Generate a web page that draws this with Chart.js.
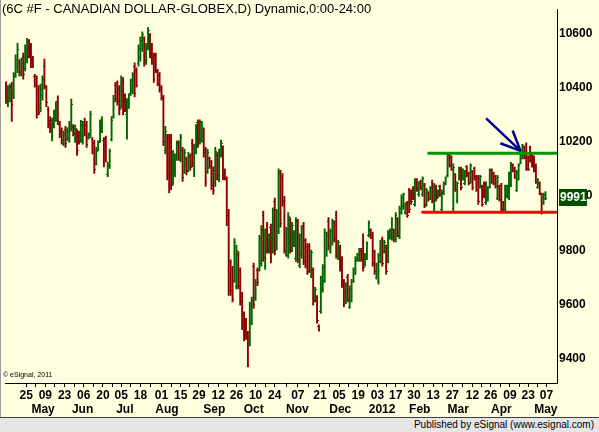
<!DOCTYPE html>
<html lang="en">
<head>
<meta charset="UTF-8">
<title>6C #F - Canadian Dollar-Globex, daily</title>
<script src="https://cdn.jsdelivr.net/npm/chart.js"></script>
<style>
  html, body { margin: 0; padding: 0; background: #FFFFE0; }
  #wrap { position: relative; width: 599px; height: 432px; overflow: hidden; background: #FFFFE0; }
  #plot { position: absolute; left: 0; top: 0; }
  .title { position: absolute; left: 2px; top: 1px; font: 13px "Liberation Sans", Arial, sans-serif; line-height: 15px; color: #000; white-space: nowrap; }
  .copy { position: absolute; left: 3px; top: 371px; font: 7px "Liberation Sans", Arial, sans-serif; color: #000; white-space: nowrap; }
  .edge { position: absolute; left: 0; top: 0; width: 1px; height: 417px; background: #9a9a9a; }
  .footer { position: absolute; left: 0; top: 417px; width: 599px; height: 15px; box-sizing: border-box;
            background: #E6E6E6; border-top: 1px solid #404040; font: 10px "Liberation Sans", Arial, sans-serif;
            line-height: 13px; text-align: right; padding-right: 5px; color: #000; }
</style>
</head>
<body>
<div id="wrap">
  <canvas id="plot" width="599" height="417"></canvas>
  <div class="edge"></div>
  <div class="title">(6C #F - CANADIAN DOLLAR-GLOBEX,D) Dynamic,0:00-24:00</div>
  <div class="copy">© eSignal, 2011</div>
  <div class="footer">Published by eSignal (www.esignal.com)</div>
</div>

<script>
// daily bars, mid-Apr 2011 .. May 2012
const opens = [
  10410, 10350, 10365, 10405, 10370, 10450, 10480, 10495, 10455, 10510,
  10470, 10510, 10570, 10545, 10505, 10440, 10430, 10395, 10320, 10370,
  10480, 10400, 10320, 10280, 10220, 10265, 10290, 10350, 10265, 10240,
  10195, 10245, 10210, 10215, 10250, 10255, 10210, 10235, 10230, 10205,
  10200, 10275, 10260, 10215, 10225, 10210, 10195, 10120, 10172, 10205,
  10240, 10205, 10210, 10080, 10110, 10210, 10295, 10410, 10415, 10395,
  10330, 10425, 10370, 10300, 10330, 10380, 10390, 10480, 10465, 10490,
  10510, 10545, 10580, 10495, 10550, 10590, 10555, 10515, 10520, 10460,
  10445, 10400, 10365, 10170, 10215, 10215, 10210, 10050, 10080, 10140,
  10195, 10135, 10170, 10090, 10135, 10095, 10145, 10195, 10085, 10165,
  10270, 10200, 10205, 10240, 10170, 10090, 10140, 10125, 10095, 10045,
  10150, 10065, 10150, 10175, 10095, 10060, 9930, 9755, 9730, 9690,
  9665, 9785, 9725, 9630, 9565, 9540, 9490, 9455, 9535, 9740,
  9625, 9725, 9730, 9750, 9930, 9740, 9890, 9795, 9885, 9800,
  9980, 9810, 9870, 10085, 10070, 9985, 9785, 9780, 9910, 9800,
  9820, 9770, 9905, 9745, 9780, 9890, 9835, 9815, 9815, 9705,
  9725, 9615, 9625, 9520, 9575, 9655, 9690, 9785, 9905, 9795,
  9825, 9900, 9930, 9770, 9810, 9765, 9685, 9610, 9700, 9590,
  9615, 9685, 9715, 9762, 9765, 9800, 9850, 9745, 9770, 9855,
  9875, 9860, 9795, 9700, 9685, 9760, 9840, 9795, 9810, 9760,
  9845, 9845, 9875, 9840, 9915, 9850, 9940, 9960, 9938, 9975,
  10020, 10015, 10030, 9970, 10060, 10005, 10055, 10005, 10040, 9970,
  10012, 9992, 10050, 9945, 10035, 9995, 10035, 9950, 10010, 10045,
  10075, 10150, 10142, 9955, 10078, 9985, 10062, 10100, 10062, 10045,
  10108, 10085, 10052, 10090, 10102, 10072, 10070, 10032, 10035, 10048,
  9975, 9985, 10032, 10095, 10085, 10072, 9992, 10036, 10040, 9976,
  9950, 9998, 9992, 10040, 10115, 10102, 10022, 10062, 10122, 10140,
  10180, 10190, 10144, 10180, 10150, 10144, 10114, 10032, 10048, 10005,
  9972, 9990
];
const highs = [
  10422, 10408, 10414, 10420, 10456, 10522, 10564, 10504, 10510, 10528,
  10558, 10582, 10578, 10564, 10516, 10450, 10444, 10408, 10414, 10444,
  10506, 10408, 10330, 10294, 10288, 10318, 10348, 10370, 10276, 10252,
  10240, 10258, 10252, 10276, 10358, 10264, 10262, 10246, 10240, 10280,
  10276, 10288, 10276, 10234, 10314, 10216, 10206, 10180, 10204, 10282,
  10294, 10216, 10222, 10126, 10174, 10294, 10372, 10420, 10426, 10408,
  10444, 10438, 10378, 10360, 10378, 10432, 10456, 10492, 10474, 10558,
  10588, 10606, 10588, 10564, 10622, 10600, 10564, 10528, 10528, 10468,
  10456, 10408, 10372, 10258, 10228, 10228, 10228, 10168, 10156, 10204,
  10204, 10228, 10180, 10174, 10144, 10162, 10156, 10210, 10192, 10264,
  10282, 10282, 10276, 10252, 10180, 10174, 10144, 10132, 10108, 10180,
  10162, 10174, 10207, 10186, 10101, 10071, 9951, 9765, 9741, 9843,
  9819, 9795, 9735, 9645, 9573, 9549, 9501, 9609, 9627, 9753,
  9693, 9735, 9855, 9891, 9945, 9879, 9903, 9861, 9897, 9957,
  9993, 9951, 10101, 10095, 10083, 9999, 9885, 9939, 9921, 9903,
  9873, 9921, 9915, 9861, 9891, 9903, 9843, 9825, 9825, 9801,
  9735, 9663, 9633, 9525, 9705, 9747, 9879, 9867, 9921, 9879,
  9915, 9909, 9945, 9837, 9819, 9777, 9693, 9681, 9711, 9669,
  9693, 9735, 9777, 9789, 9807, 9807, 9861, 9789, 9831, 9909,
  9879, 9867, 9801, 9753, 9789, 9837, 9849, 9837, 9819, 9873,
  9879, 9921, 9879, 9939, 9921, 9963, 10005, 10011, 9975, 9981,
  10029, 10023, 10035, 10065, 10065, 10053, 10059, 10071, 10047, 10029,
  10017, 10035, 10059, 10047, 10041, 10023, 10041, 10023, 10053, 10071,
  10155, 10155, 10149, 10119, 10083, 10053, 10107, 10107, 10101, 10095,
  10113, 10089, 10119, 10095, 10107, 10077, 10077, 10077, 10041, 10053,
  10053, 10035, 10101, 10101, 10089, 10077, 10077, 10041, 10047, 9981,
  10041, 10041, 10089, 10125, 10119, 10107, 10095, 10119, 10167, 10191,
  10185, 10197, 10149, 10185, 10155, 10149, 10119, 10065, 10053, 10011,
  10011, 10017
];
const lows = [
  10342, 10330, 10348, 10276, 10360, 10438, 10456, 10444, 10444, 10432,
  10462, 10492, 10510, 10474, 10474, 10402, 10288, 10300, 10312, 10354,
  10396, 10330, 10252, 10234, 10204, 10252, 10276, 10264, 10216, 10192,
  10186, 10180, 10204, 10198, 10240, 10222, 10198, 10150, 10192, 10198,
  10192, 10222, 10180, 10210, 10216, 10156, 10084, 10114, 10168, 10198,
  10234, 10108, 10126, 10072, 10102, 10204, 10288, 10348, 10336, 10300,
  10324, 10300, 10312, 10210, 10324, 10372, 10378, 10366, 10402, 10480,
  10498, 10534, 10480, 10486, 10540, 10510, 10486, 10420, 10456, 10408,
  10384, 10354, 10186, 10156, 10060, 10012, 10024, 10042, 10072, 10132,
  10132, 10126, 10054, 10084, 10078, 10090, 10096, 10108, 10072, 10156,
  10180, 10192, 10198, 10144, 10036, 10084, 10102, 10024, 10006, 10036,
  10060, 10053, 10144, 10060, 10060, 9891, 9633, 9633, 9609, 9681,
  9657, 9657, 9597, 9507, 9465, 9471, 9369, 9447, 9525, 9585,
  9615, 9669, 9723, 9741, 9759, 9729, 9789, 9789, 9753, 9789,
  9783, 9801, 9861, 9885, 9963, 9789, 9777, 9771, 9789, 9795,
  9813, 9759, 9753, 9735, 9771, 9747, 9735, 9711, 9717, 9699,
  9597, 9609, 9531, 9501, 9567, 9645, 9681, 9777, 9801, 9789,
  9819, 9831, 9771, 9765, 9723, 9663, 9591, 9603, 9609, 9585,
  9609, 9681, 9711, 9759, 9759, 9759, 9723, 9741, 9765, 9849,
  9843, 9741, 9711, 9693, 9675, 9753, 9741, 9789, 9711, 9753,
  9841, 9837, 9831, 9831, 9849, 9843, 9933, 9951, 9933, 9921,
  9939, 9969, 9987, 9963, 10017, 9999, 10023, 9999, 9957, 9963,
  9981, 9987, 9975, 9939, 9981, 9993, 9999, 9945, 10005, 10041,
  10071, 10107, 10095, 9945, 10017, 9975, 10059, 10023, 10059, 10041,
  10071, 10041, 10047, 10023, 10059, 10017, 9969, 10029, 9963, 9993,
  9969, 9981, 10029, 10047, 10041, 10029, 9987, 9981, 9939, 9939,
  9945, 9993, 9987, 10035, 10089, 10065, 10017, 10059, 10119, 10137,
  10137, 10095, 10095, 10125, 10107, 10089, 10047, 10029, 10005, 9933,
  9969, 9987
];
const closes = [
  10370, 10395, 10400, 10340, 10440, 10500, 10540, 10460, 10490, 10450,
  10540, 10565, 10530, 10490, 10480, 10410, 10300, 10310, 10395, 10430,
  10410, 10345, 10265, 10245, 10270, 10305, 10335, 10280, 10230, 10205,
  10230, 10195, 10240, 10260, 10340, 10230, 10250, 10170, 10200, 10265,
  10260, 10235, 10190, 10230, 10300, 10170, 10100, 10165, 10198, 10270,
  10285, 10120, 10140, 10115, 10165, 10280, 10360, 10360, 10350, 10320,
  10430, 10320, 10320, 10345, 10370, 10425, 10445, 10380, 10410, 10545,
  10575, 10595, 10500, 10555, 10610, 10525, 10495, 10430, 10465, 10415,
  10395, 10360, 10200, 10240, 10080, 10030, 10040, 10150, 10140, 10195,
  10145, 10215, 10070, 10160, 10090, 10150, 10105, 10120, 10180, 10250,
  10195, 10270, 10260, 10160, 10050, 10160, 10110, 10040, 10020, 10165,
  10075, 10160, 10195, 10075, 10065, 9905, 9650, 9650, 9620, 9830,
  9800, 9670, 9610, 9520, 9480, 9480, 9375, 9595, 9615, 9600,
  9680, 9680, 9845, 9875, 9775, 9865, 9800, 9850, 9770, 9945,
  9800, 9940, 10090, 9900, 9975, 9800, 9875, 9925, 9800, 9890,
  9865, 9910, 9765, 9850, 9880, 9760, 9745, 9720, 9725, 9790,
  9610, 9655, 9540, 9505, 9695, 9735, 9865, 9855, 9815, 9870,
  9905, 9840, 9785, 9830, 9735, 9675, 9600, 9670, 9620, 9660,
  9685, 9730, 9770, 9785, 9800, 9765, 9735, 9785, 9825, 9900,
  9848, 9750, 9720, 9745, 9780, 9830, 9750, 9830, 9720, 9865,
  9875, 9915, 9840, 9930, 9855, 9955, 9995, 10005, 9970, 9930,
  9950, 9980, 9995, 10055, 10025, 10045, 10030, 10065, 9965, 10020,
  9988, 10030, 9985, 10040, 9990, 10020, 10005, 10015, 10048, 10068,
  10140, 10112, 10100, 10105, 10025, 10045, 10100, 10030, 10095, 10090,
  10075, 10048, 10112, 10030, 10062, 10022, 9980, 10072, 9970, 9998,
  10045, 10030, 10095, 10052, 10045, 10035, 10070, 9986, 9950, 9944,
  10035, 10035, 10082, 10118, 10092, 10070, 10088, 10112, 10162, 10185,
  10142, 10102, 10100, 10130, 10112, 10094, 10052, 10060, 10010, 9940,
  10005, 9991
];

// axis labels (position = trading-day index of the date)
const dayTicks  = [10.5, 20.5, 30.5, 40.5, 50.5, 60, 70, 81, 91, 100.5, 110.5, 120, 130, 140,
                   152, 163.5, 173.5, 183.5, 193.5, 203, 212.5, 222.5, 232.5, 243, 252.5, 262.5, 272, 281.5];
const dayLabels = ['25','09','23','06','20','05','18','01','15','29','12','26','10','24',
                   '07','21','05','19','03','17','30','13','27','12','26','09','23','07'];
const monthTicks  = [19.3, 39.9, 61.9, 83.8, 108.5, 129, 151.8, 174.1, 195.9, 215.5, 235.5, 258, 281.2];
const monthLabels = ['May','Jun','Jul','Aug','Sep','Oct','Nov','Dec','2012','Feb','Mar','Apr','May'];
const priceTicks = [9400, 9600, 9800, 10000, 10200, 10400, 10600];

// drawn lines
const resistance = 10158, resistanceFrom = 219.5;
const support = 9940, supportFrom = 216.4;
const arrowTip = { x: 268, y: 10167 };
const arrowTails = [{ x: 250.1, y: 10287 }, { x: 263.9, y: 10242 }, { x: 257.5, y: 10195 }];

const GREEN = '#006400', RED = '#8B0000';
const FONT = '"Liberation Sans", Arial, sans-serif';
const XMIN = -0.52, XMAX = 287;
const lastPrice = closes[closes.length - 1];

const isUp = i => closes[i] >= opens[i];

// open tick (left) / close tick (right) as small point images
function tickImg(color, left) {
    const c = document.createElement('canvas');
    c.width = 3; c.height = 1;
    const g = c.getContext('2d');
    g.fillStyle = color;
    g.fillRect(left ? 0 : 2, 0, 1, 1);
    return c;
}
const openG = tickImg(GREEN, true), openR = tickImg(RED, true);
const closeG = tickImg(GREEN, false), closeR = tickImg(RED, false);

const dayMap = new Map(dayTicks.map((v, i) => [v, dayLabels[i]]));
const monthMap = new Map(monthTicks.map((v, i) => [v, monthLabels[i]]));
const weekly = dayTicks.concat(dayTicks.slice(1).map((v, i) => (v + dayTicks[i]) / 2)).sort((a, b) => a - b);

const priceBox = {
    id: 'priceBox',
    beforeDatasetsDraw(chart) { chart.ctx.imageSmoothingEnabled = false; },
    afterDraw(chart) {
        const ctx = chart.ctx;
        const y = chart.scales.y.getPixelForValue(lastPrice);
        const x = chart.chartArea.right + 2;
        ctx.save();
        ctx.fillStyle = '#004F00';
        ctx.fillRect(x, Math.round(y) - 10, 28, 17);
        ctx.fillStyle = '#FFFFFF';
        ctx.font = 'bold 12px ' + FONT;
        ctx.textBaseline = 'middle';
        ctx.fillText(String(lastPrice), x + 1, Math.round(y) - 1.5);
        ctx.restore();
    }
};

const seg = (a, b, color, width) => ({
    type: 'scatter', data: [a, b], showLine: true, borderColor: color, borderWidth: width,
    pointRadius: 0, order: 0
});

new Chart(document.getElementById('plot'), {
    type: 'bar',
    data: {
        datasets: [
            {
                type: 'bar',
                data: lows.map((l, i) => ({ x: i, y: [l, highs[i]] })),
                backgroundColor: c => isUp(c.dataIndex) ? GREEN : RED,
                barThickness: 1.25,
                borderWidth: 0,
                grouped: false,
                order: 2
            },
            {
                type: 'scatter',
                data: opens.map((v, i) => ({ x: i, y: v })),
                pointStyle: c => isUp(c.dataIndex) ? openG : openR,
                pointRadius: 2,
                order: 1
            },
            {
                type: 'scatter',
                data: closes.map((v, i) => ({ x: i, y: v })),
                pointStyle: c => isUp(c.dataIndex) ? closeG : closeR,
                pointRadius: 2,
                order: 1
            },
            seg({ x: resistanceFrom, y: resistance }, { x: XMAX, y: resistance }, '#009600', 3),
            seg({ x: supportFrom, y: support }, { x: XMAX, y: support }, '#FF0000', 3),
            ...arrowTails.map(t => seg(t, arrowTip, '#00008B', 2.5))
        ]
    },
    options: {
        responsive: false,
        animation: false,
        events: [],
        layout: { padding: { left: 2, right: 0, top: 0, bottom: 0 } },
        plugins: { legend: { display: false }, tooltip: { enabled: false } },
        scales: {
            x: {
                type: 'linear', position: 'bottom', min: XMIN, max: XMAX, offset: false, weight: 0,
                afterBuildTicks: s => { s.ticks = weekly.map(v => ({ value: v })); },
                afterFit: s => { s.height = 19; },
                grid: { display: true, offset: false, drawOnChartArea: false, drawTicks: true, tickLength: 4, color: '#000' },
                border: { display: true, color: '#000', width: 1 },
                ticks: {
                    autoSkip: false, maxRotation: 0, padding: 1, color: '#000',
                    font: { family: FONT, size: 12, weight: 'bold' },
                    callback: v => dayMap.get(v) || ''
                }
            },
            xm: {
                type: 'linear', position: 'bottom', min: XMIN, max: XMAX, offset: false, weight: 1,
                afterBuildTicks: s => { s.ticks = monthTicks.map(v => ({ value: v })); },
                afterFit: s => { s.height = 15; },
                grid: { display: false, drawTicks: false },
                border: { display: false },
                ticks: {
                    autoSkip: false, maxRotation: 0, padding: 0, color: '#000',
                    font: { family: FONT, size: 12, weight: 'bold' },
                    callback: v => monthMap.get(v) || ''
                }
            },
            y: {
                position: 'right', min: 9310, max: 10690,
                afterBuildTicks: s => { s.ticks = priceTicks.map(v => ({ value: v })); },
                afterFit: s => { s.width = 42; },
                grid: { display: true, drawOnChartArea: false, drawTicks: false },
                border: { display: true, color: '#000', width: 1 },
                ticks: {
                    padding: 2, color: '#000',
                    font: { family: FONT, size: 12, weight: 'bold' },
                    callback: v => String(v)
                }
            }
        }
    },
    plugins: [priceBox]
});
</script>
</body>
</html>
